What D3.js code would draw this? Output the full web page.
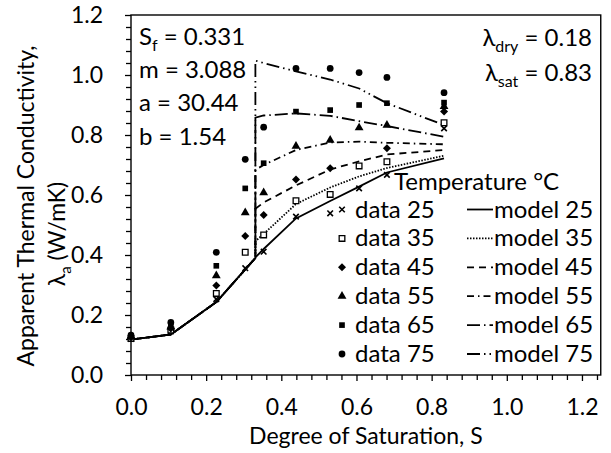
<!DOCTYPE html>
<html>
<head>
<meta charset="utf-8">
<script src="https://cdn.jsdelivr.net/npm/d3@7"></script>
<style>
  body { margin: 0; background: #fff; }
  svg { display: block; font-family: Lato, "Open Sans", sans-serif; }
</style>
</head>
<body>
<svg id="vis" width="611" height="453"></svg>
<script>
// measured data, S = degree of saturation, k = apparent conductivity (W/mK)
var dataS = [0, 0.106, 0.227, 0.304, 0.353, 0.439, 0.53, 0.607, 0.681, 0.833];
var dataS45 = [0, 0.106, 0.227, 0.304, 0.353, 0.439, 0.53, 0.681, 0.833];
var data25 = [0.12, 0.145, 0.253, 0.356, 0.411, 0.528, 0.539, 0.622, 0.667, 0.822];
var data35 = [0.122, 0.15, 0.272, 0.409, 0.467, 0.581, 0.602, 0.697, 0.711, 0.841];
var data45 = [0.125, 0.155, 0.298, 0.463, 0.533, 0.652, 0.689, 0.756, 0.878];
var data55 = [0.128, 0.16, 0.331, 0.541, 0.608, 0.763, 0.783, 0.824, 0.833, 0.895];
var data65 = [0.13, 0.168, 0.364, 0.622, 0.706, 0.878, 0.883, 0.9, 0.906, 0.908];
var data75 = [0.133, 0.175, 0.409, 0.719, 0.826, 1.022, 1.022, 1.008, 0.992, 0.941];

// model: common part below S_f, then one branch per temperature
var Sf = 0.331;
var modelLowS = [0, 0.106, 0.227, 0.331];
var modelLowK = [0.118, 0.135, 0.243, 0.39];
var modelHighS = [0.331, 0.353, 0.439, 0.53, 0.607, 0.681, 0.833];
var model25 = [0.392, 0.42, 0.522, 0.58, 0.628, 0.675, 0.722];
var model35 = [0.446, 0.47, 0.57, 0.625, 0.662, 0.69, 0.731];
var model45 = [0.554, 0.575, 0.632, 0.685, 0.712, 0.735, 0.75];
var model55 = [0.684, 0.7, 0.75, 0.775, 0.778, 0.774, 0.769];
var model65 = [0.858, 0.865, 0.872, 0.864, 0.846, 0.83, 0.794];
var model75 = [1.048, 1.04, 1.012, 0.985, 0.955, 0.906, 0.833];

var temps = [25, 35, 45, 55, 65, 75];
var xTicks = [0, 0.2, 0.4, 0.6, 0.8, 1.0, 1.2];
var yTicks = [0, 0.2, 0.4, 0.6, 0.8, 1.0, 1.2];

// excel style diamond: a square turned 45 degrees
var symbolRhomb = {
  draw: function(ctx, size) {
    var r = Math.sqrt(size / 2);
    ctx.moveTo(0, -r);
    ctx.lineTo(r, 0);
    ctx.lineTo(0, r);
    ctx.lineTo(-r, 0);
    ctx.closePath();
  }
};

var series = [
  { t: 25, s: dataS, k: data25, m: model25, sym: d3.symbolX, fill: "none", dash: null },
  { t: 35, s: dataS, k: data35, m: model35, sym: d3.symbolSquare, fill: "#fff", dash: "1.5,1.5" },
  { t: 45, s: dataS45, k: data45, m: model45, sym: symbolRhomb, fill: "#000", dash: "7,5" },
  { t: 55, s: dataS, k: data55, m: model55, sym: d3.symbolTriangle, fill: "#000", dash: "7,4,1.5,4" },
  { t: 65, s: dataS, k: data65, m: model65, sym: d3.symbolSquare, fill: "#000", dash: "13,4,1.5,4" },
  { t: 75, s: dataS, k: data75, m: model75, sym: d3.symbolCircle, fill: "#000", dash: "13,4,1.5,4,1.5,4" }
];

var svg = d3.select("#vis");
var fontSize = 24;

var x = d3.scaleLinear().domain([0, 1.25]).range([131, 600.75]);
var y = d3.scaleLinear().domain([0, 1.2]).range([375, 15]);

function symbolPath(d) {
  var size = d.sym === d3.symbolX ? 22 : d.sym === d3.symbolTriangle ? 34 : d.sym === d3.symbolCircle ? 36 : 32;
  return d3.symbol().type(d.sym).size(size)();
}
function styleMarker(sel, d) {
  sel.attr("d", symbolPath(d))
    .attr("fill", d.fill)
    .attr("stroke", "#000")
    .attr("stroke-width", d.sym === d3.symbolX ? 1.6 : d.fill === "#fff" ? 1.3 : 0);
}

// minor ticks
var minorX = d3.range(0, 32).filter(i => i % 5 !== 0).map(i => i * 0.04);
var minorY = d3.range(0, 31).filter(i => i % 5 !== 0).map(i => i * 0.04);

svg.append("g")
  .attr("transform", `translate(0,${y(0)})`)
  .call(d3.axisBottom(x).tickValues(minorX).tickSize(5).tickFormat(""))
  .call(g => g.select(".domain").remove());
svg.append("g")
  .attr("transform", `translate(${x(0)},0)`)
  .call(d3.axisLeft(y).tickValues(minorY).tickSize(5).tickFormat(""))
  .call(g => g.select(".domain").remove());

svg.append("g")
  .attr("transform", `translate(0,${y(0)})`)
  .call(d3.axisBottom(x).tickValues(xTicks).tickSize(6).tickPadding(18).tickFormat(d3.format(".1f")))
  .call(g => g.select(".domain").remove());
svg.append("g")
  .attr("transform", `translate(${x(0)},0)`)
  .call(d3.axisLeft(y).tickValues(yTicks).tickSize(6).tickPadding(22).tickFormat(d3.format(".1f")))
  .call(g => g.select(".domain").remove());

svg.selectAll(".tick line").attr("stroke-width", 1.3);
svg.selectAll(".tick text")
  .style("font-size", "23px")
  .style("font-family", "Lato, sans-serif")
  .style("fill", "#000");

// plot frame
svg.append("rect")
  .attr("x", x(0))
  .attr("y", y(1.2))
  .attr("width", x(1.25) - x(0))
  .attr("height", y(0) - y(1.2))
  .attr("fill", "none")
  .attr("stroke", "#000")
  .attr("stroke-width", 1.4);

// model lines
var line = d3.line().x(d => x(d[0])).y(d => y(d[1]));
series.forEach(function(d) {
  var pts = modelLowS.map((s, i) => [s, modelLowK[i]])
    .concat(modelHighS.map((s, i) => [s, d.m[i]]));
  svg.append("path")
    .datum(pts)
    .attr("d", line)
    .attr("fill", "none")
    .attr("stroke", "#000")
    .attr("stroke-width", 1.8)
    .attr("stroke-dasharray", d.dash);
});

// data markers
series.forEach(function(d) {
  svg.append("g")
    .selectAll("path")
    .data(d.s.map((s, i) => [s, d.k[i]]))
    .enter()
    .append("path")
    .attr("transform", p => `translate(${x(p[0])},${y(p[1])})`)
    .each(function() { styleMarker(d3.select(this), d); });
});

// parameter text
var params = [["S", "f", " = 0.331"], ["m = 3.088"], ["a = 30.44"], ["b = 1.54"]];
params.forEach(function(p, i) {
  var t = svg.append("text")
    .attr("x", 139)
    .attr("y", 45 + i * 33.2)
    .attr("font-size", fontSize);
  t.append("tspan").text(p[0]);
  if (p.length > 1) {
    t.append("tspan").attr("dy", 6).attr("font-size", 16).text(p[1]);
    t.append("tspan").attr("dy", -6).text(p[2]);
  }
});

var lambdas = [["dry", " = 0.18"], ["sat", " = 0.83"]];
lambdas.forEach(function(p, i) {
  var t = svg.append("text")
    .attr("x", 592)
    .attr("y", 46 + i * 35)
    .attr("text-anchor", "end")
    .attr("font-size", fontSize);
  t.append("tspan").text("λ");
  t.append("tspan").attr("dy", 6).attr("font-size", 16).text(p[0]);
  t.append("tspan").attr("dy", -6).text(p[1]);
});

// axis titles
svg.append("text")
  .attr("x", (x(0) + x(1.25)) / 2)
  .attr("y", 444)
  .attr("text-anchor", "middle")
  .attr("font-size", 23)
  .text("Degree of Saturation, S");

svg.append("text")
  .attr("transform", "translate(34,206) rotate(-90)")
  .attr("text-anchor", "middle")
  .attr("font-size", 23)
  .text("Apparent Thermal Conductivity,");

var yt2 = svg.append("text")
  .attr("transform", "translate(65,234) rotate(-90)")
  .attr("text-anchor", "middle")
  .attr("font-size", 23);
yt2.append("tspan").text("λ");
yt2.append("tspan").attr("dy", 6).attr("font-size", 15).text("a");
yt2.append("tspan").attr("dy", -6).text(" (W/mK)");

// legend
svg.append("text")
  .attr("x", 394)
  .attr("y", 190)
  .attr("font-size", fontSize)
  .text("Temperature °C");

var leg = svg.append("g")
  .selectAll("g")
  .data(series)
  .enter()
  .append("g")
  .attr("transform", (d, i) => `translate(0,${217.5 + i * 28.9})`);

leg.append("path")
  .attr("transform", "translate(342,-8)")
  .each(function(d) { styleMarker(d3.select(this), d); });
leg.append("text")
  .attr("x", 355)
  .attr("font-size", fontSize)
  .text(d => "data " + d.t);
leg.append("line")
  .attr("x1", 467).attr("x2", 493)
  .attr("y1", -8).attr("y2", -8)
  .attr("stroke", "#000")
  .attr("stroke-width", 1.8)
  .attr("stroke-dasharray", d => d.dash);
leg.append("text")
  .attr("x", 494)
  .attr("font-size", fontSize)
  .text(d => "model " + d.t);
</script>
</body>
</html>
